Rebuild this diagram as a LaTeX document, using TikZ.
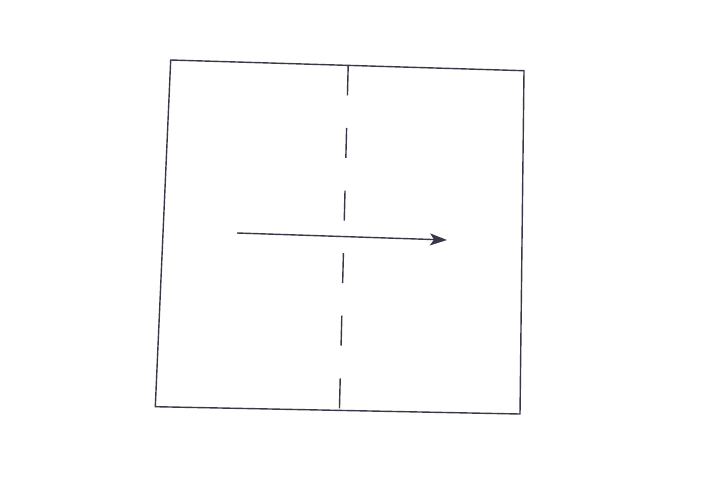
\documentclass[tikz,border=0pt]{standalone}
\usepackage{tikz}
\usetikzlibrary{arrows.meta}

\definecolor{ink}{RGB}{58,56,72}

\begin{document}
\begin{tikzpicture}[x=1pt,y=-1pt,line width=1.4pt,ink,
  foldline/.style={dash pattern=on 30pt off 32.6pt},
  movearrow/.style={-{Stealth[length=17pt,width=12pt,inset=4pt]}}]
\useasboundingbox(0,0) rectangle (720,480);
\coordinate (tl) at (170.7,60);
\coordinate (tr) at (524,70.7);
\coordinate (br) at (520,414);
\coordinate (bl) at (155.3,406.7);
\coordinate (ftop) at (348.2,65.4);
\coordinate (fbot) at (339.4,410.6);
\coordinate (astart) at (237,233);
\coordinate (aend) at (447,240);
\draw(tl)--(tr)--(br)--(bl)--cycle;
\draw[foldline](ftop)--(fbot);
\draw[movearrow](astart)--(aend);
\end{tikzpicture}
\end{document}
